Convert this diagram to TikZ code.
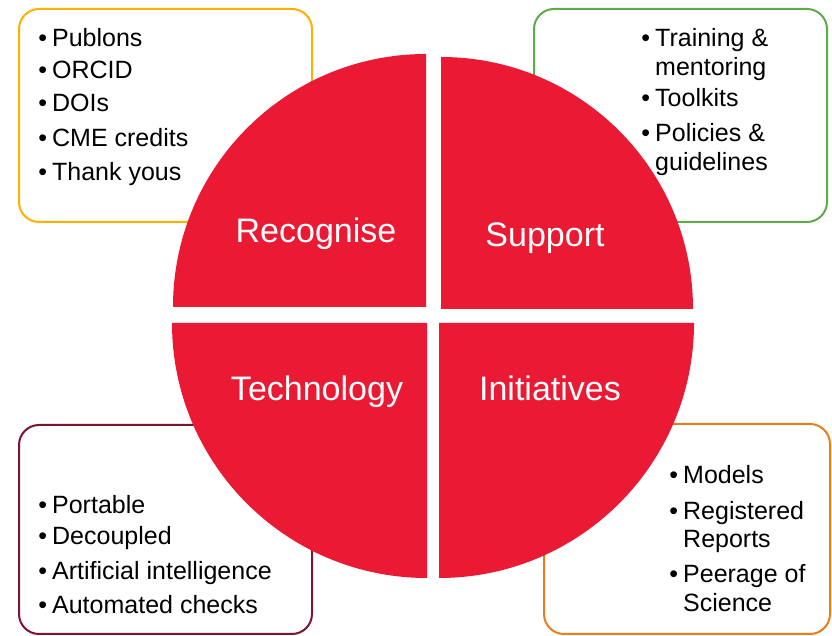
\documentclass[tikz,border=0pt]{standalone}
\usepackage{fontspec}
\setmainfont{Liberation Sans}
\usetikzlibrary{positioning}

\definecolor{quadred}{RGB}{234,25,52}
\definecolor{boxgold}{RGB}{255,176,0}
\definecolor{boxgreen}{RGB}{92,170,72}
\definecolor{boxmaroon}{RGB}{122,22,50}
\definecolor{boxorange}{RGB}{234,126,30}

\begin{document}
\begin{tikzpicture}[x=1pt,y=1pt]

\tikzset{listbox/.style={line width=2pt,rounded corners=20pt,fill=white},
quadrant/.style={fill=quadred,draw=none},
quadlabel/.style={font=\fontsize{34}{34}\selectfont,text=white,anchor=base,inner sep=0pt},
bulleted/.style={font=\fontsize{25}{25}\selectfont,anchor=base west,inner sep=0pt,execute at begin node={\llap{\textbullet\hspace{5pt}}}},
contline/.style={font=\fontsize{25}{25}\selectfont,anchor=base west,inner sep=0pt}}

\useasboundingbox (0,0) rectangle (832,636);

% boxes behind the circle
\draw[listbox,draw=boxgold] (19,414) rectangle (312,627);
\draw[listbox,draw=boxgreen] (534,414) rectangle (827,627);
\draw[listbox,draw=boxmaroon] (19,2) rectangle (312,211);
\draw[listbox,draw=boxorange] (544,2) rectangle (830,212);

% quadrants
\fill[quadrant] (426,329) -- (173,329) arc[start angle=180,end angle=90,radius=253] -- cycle;
\fill[quadrant] (441,327) -- (441,579) arc[start angle=90,end angle=0,radius=252] -- cycle;
\fill[quadrant] (427,313) -- (172,313) arc[start angle=180,end angle=270,radius=255] -- cycle;
\fill[quadrant] (439,313) -- (694,313) arc[start angle=0,end angle=-90,radius=255] -- cycle;

% quadrant labels
\node[quadlabel] (recognise) at (316,393) {Recognise};
\node[quadlabel] (support) at (545,389) {Support};
\node[quadlabel] (technology) at (317,235) {Technology};
\node[quadlabel] (initiatives) at (550,235) {Initiatives};

% top left list
\node[bulleted] (publons) at (52,589) {Publons};
\node[bulleted] (orcid) at (52,557) {ORCID};
\node[bulleted] (dois) at (52,524) {DOIs};
\node[bulleted] (cme) at (52,489) {CME credits};
\node[bulleted] (thanks) at (52,455) {Thank yous};

% top right list
\node[bulleted] (training) at (655,589) {Training \&};
\node[contline] (mentoring) at (655,560) {mentoring};
\node[bulleted] (toolkits) at (655,529) {Toolkits};
\node[bulleted] (policies) at (655,494) {Policies \&};
\node[contline] (guidelines) at (655,465) {guidelines};

% bottom left list
\node[bulleted] (portable) at (52,122) {Portable};
\node[bulleted] (decoupled) at (52,91) {Decoupled};
\node[bulleted] (ai) at (52,56) {Artificial intelligence};
\node[bulleted] (checks) at (52,22) {Automated checks};

% bottom right list
\node[bulleted] (models) at (683,152) {Models};
\node[bulleted] (registered) at (683,116) {Registered};
\node[contline] (reports) at (683,88) {Reports};
\node[bulleted] (peerage) at (683,53) {Peerage of};
\node[contline] (science) at (683,24) {Science};

\end{tikzpicture}
\end{document}
